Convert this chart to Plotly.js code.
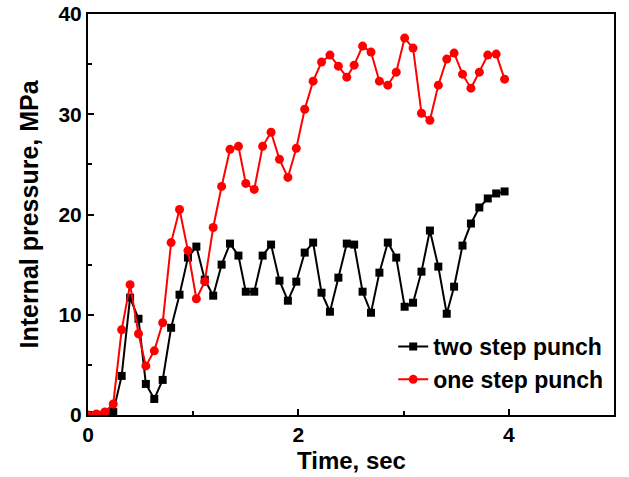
<!DOCTYPE html>
<html>
<head>
<meta charset="utf-8">
<script src="https://cdn.plot.ly/plotly-3.0.1.min.js"></script>
<style>html,body{margin:0;padding:0;background:#fff;}#chart{width:629px;height:477px;}</style>
</head>
<body>
<div id="chart"></div>
<script>
var time = [0, 0.08, 0.16, 0.24, 0.32, 0.40, 0.48, 0.55, 0.63, 0.71, 0.79, 0.87, 0.95, 1.03, 1.11, 1.19, 1.27, 1.35, 1.43, 1.50, 1.58, 1.66, 1.74, 1.82, 1.90, 1.98, 2.06, 2.14, 2.22, 2.30, 2.38, 2.46, 2.53, 2.61, 2.69, 2.77, 2.85, 2.93, 3.01, 3.09, 3.17, 3.25, 3.33, 3.41, 3.48, 3.56, 3.64, 3.72, 3.80, 3.88, 3.96];
var twoStep = [0, 0, 0.1, 0.3, 3.9, 11.7, 9.6, 3.1, 1.6, 3.5, 8.7, 12.0, 15.7, 16.8, 13.5, 11.9, 15.0, 17.1, 15.9, 12.3, 12.3, 15.9, 17.0, 13.4, 11.4, 13.3, 16.2, 17.2, 12.2, 10.3, 13.7, 17.1, 17.0, 12.3, 10.2, 14.2, 17.2, 15.7, 10.8, 11.2, 14.3, 18.4, 14.8, 10.1, 12.8, 16.9, 19.1, 20.7, 21.6, 22.1, 22.3];
var oneStep = [0, 0.1, 0.3, 1.1, 8.5, 13.0, 8.1, 4.9, 6.4, 9.2, 17.2, 20.5, 16.4, 11.6, 13.3, 18.7, 22.8, 26.5, 26.8, 23.1, 22.5, 26.8, 28.2, 25.5, 23.7, 26.6, 30.5, 33.3, 35.2, 35.9, 34.8, 33.7, 34.9, 36.8, 36.2, 33.3, 32.9, 34.2, 37.6, 36.6, 30.1, 29.4, 32.9, 35.5, 36.1, 34.0, 32.6, 34.2, 35.9, 36.0, 33.5];
var xTicks = [0, 2, 4];
var yTicks = [0, 10, 20, 30, 40];
var xTitle = 'Time, sec';
var yTitle = 'Internal pressure, MPa';

var traces = [
  {x: time, y: twoStep, name: 'two step punch', mode: 'lines+markers',
   line: {color: '#000000', width: 2}, marker: {symbol: 'square', size: 8, color: '#000000'}},
  {x: time, y: oneStep, name: 'one step punch', mode: 'lines+markers',
   line: {color: '#ff0000', width: 2}, marker: {symbol: 'circle', size: 9, color: '#ff0000'}}
];
var fontFam = 'Liberation Sans, Arial, sans-serif';
var layout = {
  width: 629, height: 477,
  margin: {l: 88, r: 15, t: 14, b: 62},
  paper_bgcolor: '#fff', plot_bgcolor: '#fff',
  showlegend: true,
  legend: {x: 0.989, y: 0.035, xanchor: 'right', yanchor: 'bottom', bgcolor: 'rgba(0,0,0,0)',
           font: {family: fontFam, size: 23, color: '#000', weight: 'bold'}, tracegroupgap: 0},
  xaxis: {range: [0, 5], tickvals: xTicks, ticks: 'inside', ticklen: 6, tickwidth: 2, tickcolor: '#000',
          showline: true, linewidth: 2, linecolor: '#000', mirror: true, showgrid: false, zeroline: false,
          minor: {tickvals: [1, 3], ticks: 'inside', ticklen: 4, tickwidth: 2, tickcolor: '#000'},
          tickfont: {family: fontFam, size: 21, color: '#000', weight: 'bold'}},
  yaxis: {range: [0, 40], tickvals: yTicks, ticks: 'inside', ticklen: 6, tickwidth: 2, tickcolor: '#000',
          showline: true, linewidth: 2, linecolor: '#000', mirror: true, showgrid: false, zeroline: false,
          minor: {tickvals: [5, 15, 25, 35], ticks: 'inside', ticklen: 4, tickwidth: 2, tickcolor: '#000'},
          tickfont: {family: fontFam, size: 21, color: '#000', weight: 'bold'},
          title: {text: yTitle, standoff: 13, font: {family: fontFam, size: 25, color: '#000', weight: 'bold'}}},
  annotations: [{text: xTitle, xref: 'paper', yref: 'paper', x: 0.5, y: -0.152, xanchor: 'center', yanchor: 'bottom',
                 showarrow: false, font: {family: fontFam, size: 24, color: '#000', weight: 'bold'}}]
};
Plotly.newPlot('chart', traces, layout, {displayModeBar: false, staticPlot: true});
</script>
</body>
</html>
